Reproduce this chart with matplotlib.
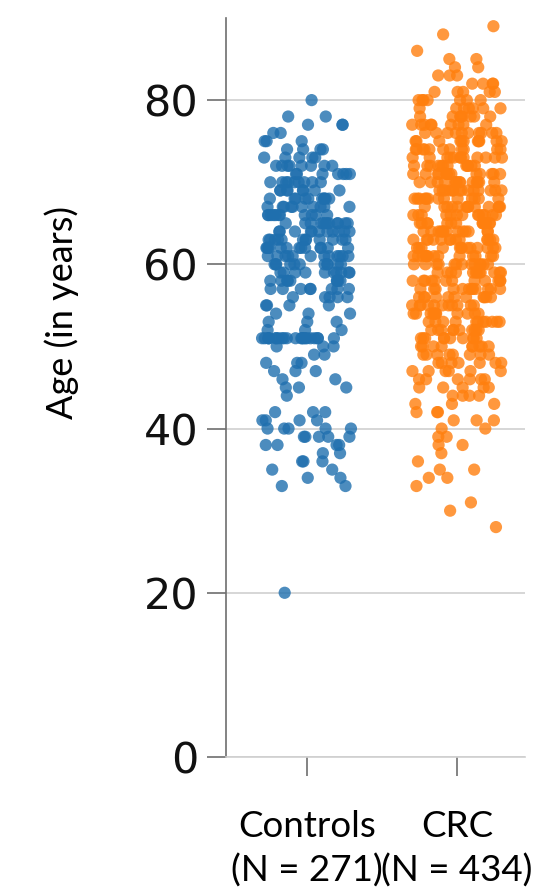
import numpy as np
import pandas as pd
import matplotlib
matplotlib.use("Agg")
import matplotlib.pyplot as plt
import seaborn as sns

# ---- data (frequency table of ages) ----
categories = ["Controls", "CRC"]
tick_labels = ["Controls\n(N = 271)", "CRC\n(N = 434)"]

controls_age_values = [80, 78, 77, 76, 75, 74, 73, 72, 71, 70, 69, 68, 67, 66, 65, 64,
                       63, 62, 61, 60, 59, 58, 57, 56, 55, 54, 53, 52, 51, 50, 49, 48,
                       47, 46, 45, 44, 42, 41, 40, 39, 38, 37, 36, 35, 34, 33, 20]
controls_counts = [1, 2, 3, 2, 3, 4, 5, 8, 7, 9, 8, 10, 10, 11, 12, 11,
                   12, 13, 12, 11, 10, 9, 8, 5, 4, 3, 3, 3, 22, 3, 2, 3,
                   3, 2, 3, 1, 3, 4, 5, 5, 4, 2, 3, 2, 2, 2, 1]

crc_age_values = [89, 88, 86, 85, 84, 83, 82, 81, 80, 79, 78, 77, 76, 75, 74, 73,
                  72, 71, 70, 69, 68, 67, 66, 65, 64, 63, 62, 61, 60, 59, 58, 57,
                  56, 55, 54, 53, 52, 51, 50, 49, 48, 47, 46, 45, 44, 43, 42, 41,
                  40, 39, 38, 37, 36, 35, 34, 33, 31, 30, 28]
crc_counts = [1, 1, 1, 2, 2, 3, 4, 5, 7, 7, 8, 9, 10, 11, 11, 12,
              12, 13, 14, 14, 13, 13, 13, 13, 13, 13, 13, 13, 13, 12, 12, 12,
              11, 11, 11, 11, 10, 10, 9, 8, 7, 6, 6, 5, 4, 3, 3, 3,
              2, 2, 2, 1, 1, 2, 2, 1, 1, 1, 1]

colors = {"Controls": "#1f6fae", "CRC": "#ff7f0e"}

controls_ages = np.repeat(controls_age_values, controls_counts)
crc_ages = np.repeat(crc_age_values, crc_counts)
df = pd.DataFrame({
    "group": ["Controls"] * len(controls_ages) + ["CRC"] * len(crc_ages),
    "age": np.concatenate([controls_ages, crc_ages]).astype(float),
})

# ---- figure ----
W, H = 548, 893
fig = plt.figure(figsize=(W / 100, H / 100), dpi=100)
ax = fig.add_axes([226 / W, 1 - 757 / H, (525 - 226) / W, (757 - 18) / H])

ax.set_axisbelow(True)
ax.yaxis.grid(True, color="#cfcfcf", linewidth=1.2, zorder=0)

np.random.seed(3)
sns.stripplot(data=df, x="group", y="age", hue="group", order=categories,
              palette=colors, jitter=0.3, size=8.8, alpha=0.8, linewidth=0,
              legend=False, ax=ax, zorder=3)

ax.set_xlim(-0.54, 1.453)
ax.set_ylim(0, 90)
ax.set_yticks([0, 20, 40, 60, 80])
ax.set_yticklabels(["0", "20", "40", "60", "80"], fontsize=31,
                   family="DejaVu Sans", color="#111111")
ax.set_xticks([0, 1])
ax.set_xticklabels(tick_labels, fontsize=26.5, family="Lato", color="black",
                   linespacing=1.38)

for s in ["top", "right"]:
    ax.spines[s].set_visible(False)
ax.spines["left"].set_color("#6e6e6e")
ax.spines["left"].set_linewidth(1.2)
ax.spines["bottom"].set_color("#cfcfcf")
ax.spines["bottom"].set_linewidth(1.2)

ax.tick_params(axis="y", length=14, width=1.2, color="#6e6e6e", pad=6)
ax.tick_params(axis="x", length=14, width=1.2, color="#6e6e6e", pad=24)

ax.set_xlabel("")
ax.set_ylabel("Age (in years)", fontsize=26, family="Lato", va="center")
ax.yaxis.set_label_coords(-0.548, (757 - 312.5) / (757 - 18))

fig.savefig("out.png", dpi=100, facecolor="white")
